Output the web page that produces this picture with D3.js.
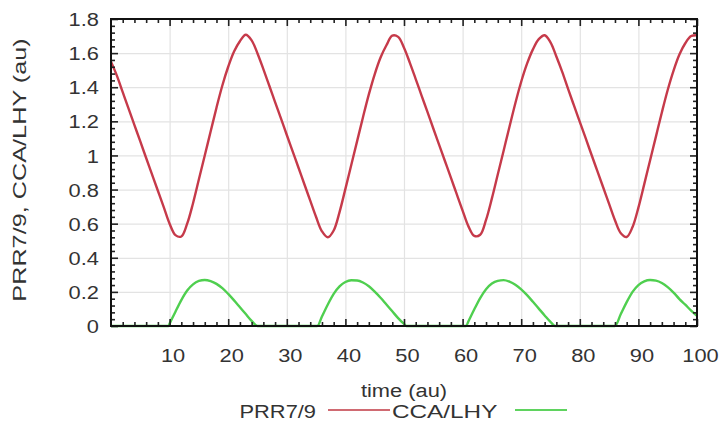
<!DOCTYPE html>
<html>
<head>
<meta charset="utf-8">
<script src="https://cdn.jsdelivr.net/npm/d3@7"></script>
<style>
  html, body { margin: 0; padding: 0; background: #fff; }
  svg { display: block; }
  .lbl { font-family: "Liberation Sans", Arial, Helvetica, sans-serif; font-size: 19px; fill: #333; }
</style>
</head>
<body>
<svg id="chart" width="722" height="425"></svg>
<script>
// PRR7/9 level over time (au)
const prrSeries = [
  [0,1.55],[1,1.468],[2,1.371],[3,1.274],[4,1.178],[5,1.082],[6,0.985],[7,0.889],[8,0.793],[9,0.697],
  [10,0.60],[11,0.533],[12,0.525],[13,0.60],[14,0.72],[15,0.86],[16,1.0],[17,1.14],[18,1.28],[19,1.41],
  [20,1.52],[21,1.61],[22,1.67],[23,1.708],[24,1.675],[25,1.598],[26,1.506],[27,1.41],[28,1.313],[29,1.217],
  [30,1.12],[31,1.024],[32,0.928],[33,0.831],[34,0.735],[35,0.639],[36,0.555],[37,0.52],[38,0.56],[39,0.668],
  [40,0.804],[41,0.944],[42,1.084],[43,1.224],[44,1.358],[45,1.476],[46,1.574],[47,1.646],[48,1.702],[49,1.695],
  [50,1.632],[51,1.543],[52,1.448],[53,1.351],[54,1.255],[55,1.158],[56,1.062],[57,0.966],[58,0.87],[59,0.773],
  [60,0.677],[61,0.584],[62,0.528],[63,0.535],[64,0.622],[65,0.748],[66,0.888],[67,1.028],[68,1.168],[69,1.306],
  [70,1.432],[71,1.538],[72,1.622],[73,1.682],[74,1.705],[75,1.663],[76,1.58],[77,1.49],[78,1.39],[79,1.293],
  [80,1.197],[81,1.101],[82,1.004],[83,0.908],[84,0.812],[85,0.716],[86,0.62],[87,0.544],[88,0.522],[89,0.58],
  [90,0.694],[91,0.832],[92,0.972],[93,1.112],[94,1.252],[95,1.384],[96,1.498],[97,1.592],[98,1.658],[99,1.70],
  [100,1.705]
];

// CCA/LHY level over time (au)
const ccaSeries = [
  [0,0],[9.8,0],[10,0.014],[11,0.084],[12,0.152],[13,0.208],[14,0.244],[15,0.264],[16,0.27],
  [17,0.263],[18,0.247],[19,0.222],[20,0.188],[21,0.15],[22,0.11],[23,0.07],[24,0.03],[25,0],
  [35.2,0],[36,0.056],[37,0.126],[38,0.188],[39,0.232],[40,0.258],[41,0.268],[42,0.267],
  [43,0.255],[44,0.233],[45,0.202],[46,0.166],[47,0.126],[48,0.086],[49,0.046],[50,0.012],
  [50.4,0],[60.6,0],[61,0.028],[62,0.098],[63,0.164],[64,0.216],[65,0.249],[66,0.265],
  [67,0.269],[68,0.26],[69,0.242],[70,0.215],[71,0.181],[72,0.142],[73,0.102],[74,0.062],
  [75,0.024],[75.8,0],[86,0],[87,0.07],[88,0.14],[89,0.2],[90,0.24],[91,0.262],[92,0.27],
  [93,0.266],[94,0.252],[95,0.228],[96,0.196],[97,0.158],[98,0.125],[99,0.09],[100,0.06]
];

const xLabelTicks = [10, 20, 30, 40, 50, 60, 70, 80, 90, 100];
const xMinorTicks = [2,4,6,8,12,14,16,18,22,24,26,28,32,34,36,38,42,44,46,48,52,54,56,58,62,64,66,68,72,74,76,78,82,84,86,88,92,94,96,98];
const yLabelTicks = [0, 0.2, 0.4, 0.6, 0.8, 1, 1.2, 1.4, 1.6, 1.8];
const yMinorTicks = d3.range(0, 1.8001, 0.04).filter(v => Math.abs(v / 0.2 - Math.round(v / 0.2)) > 1e-6);
const seriesNames = ["PRR7/9", "CCA/LHY"];

const svg = d3.select("#chart");
const L = 111, R = 697, T = 19, B = 326;
const SX = 1.15; // horizontal text stretch

const x = d3.scaleLinear().domain([0, 100]).range([L, R]);
const y = d3.scaleLinear().domain([0, 1.8]).range([B, T]);

// grid
svg.append("g").attr("transform", `translate(0,${B})`)
  .call(d3.axisBottom(x).tickValues(xLabelTicks.filter(v => v < 100)).tickSize(-(B - T)).tickFormat(""))
  .call(g => g.select(".domain").remove())
  .call(g => g.selectAll("line").attr("stroke", "#e3e3e3").attr("stroke-width", 1.2));
svg.append("g").attr("transform", `translate(${L},0)`)
  .call(d3.axisLeft(y).tickValues(yLabelTicks.filter(v => v > 0 && v < 1.8)).tickSize(-(R - L)).tickFormat(""))
  .call(g => g.select(".domain").remove())
  .call(g => g.selectAll("line").attr("stroke", "#e3e3e3").attr("stroke-width", 1.2));

// curves
const prrLine = d3.line().x(d => x(d[0])).y(d => y(d[1])).curve(d3.curveCatmullRom.alpha(0.5));
const ccaLine = d3.line().x(d => x(d[0])).y(d => y(d[1])).curve(d3.curveMonotoneX);
svg.append("path").datum(prrSeries).attr("d", prrLine)
  .attr("fill", "none").attr("stroke", "#c63a4a").attr("stroke-width", 2.4);
svg.append("path").datum(ccaSeries).attr("d", ccaLine)
  .attr("fill", "none").attr("stroke", "#4fcf4f").attr("stroke-width", 2.4);

// inward ticks on all four sides
function ticks(axisGen, tr, size, values) {
  svg.append("g").attr("transform", tr)
    .call(axisGen.tickValues(values).tickSize(size).tickFormat(""))
    .call(g => g.select(".domain").remove())
    .call(g => g.selectAll("line").attr("stroke", "#222").attr("stroke-width", 1.6));
}
ticks(d3.axisBottom(x), `translate(0,${B})`, -7, xLabelTicks);
ticks(d3.axisBottom(x), `translate(0,${B})`, -4, xMinorTicks);
ticks(d3.axisTop(x), `translate(0,${T})`, -7, xLabelTicks);
ticks(d3.axisTop(x), `translate(0,${T})`, -4, xMinorTicks);
ticks(d3.axisLeft(y), `translate(${L},0)`, -7, yLabelTicks);
ticks(d3.axisLeft(y), `translate(${L},0)`, -4, yMinorTicks);
ticks(d3.axisRight(y), `translate(${R},0)`, -7, yLabelTicks);
ticks(d3.axisRight(y), `translate(${R},0)`, -4, yMinorTicks);

// frame
svg.append("rect").attr("x", L).attr("y", T).attr("width", R - L).attr("height", B - T)
  .attr("fill", "none").attr("stroke", "#111").attr("stroke-width", 2);

// tick labels
svg.append("g").attr("transform", `translate(3,${B})`)
  .call(d3.axisBottom(x).tickValues(xLabelTicks).tickSize(0).tickPadding(0).tickFormat(d3.format("d")))
  .call(g => g.select(".domain").remove())
  .call(g => g.selectAll("text").attr("class", "lbl").attr("font-size", null).attr("font-family", null)
    .attr("fill", null).attr("y", 0).attr("dy", null).attr("transform", `translate(0,36) scale(${SX},1)`));
svg.append("g").attr("transform", `translate(${L},0)`)
  .call(d3.axisLeft(y).tickValues(yLabelTicks).tickSize(0).tickFormat(d => d === 0 ? "0" : d3.format("")(d)))
  .call(g => g.select(".domain").remove())
  .call(g => g.selectAll("text").attr("class", "lbl").attr("font-size", null).attr("font-family", null)
    .attr("fill", null).attr("x", 0).attr("dy", "0.35em").attr("transform", `translate(-12,0) scale(${SX},1)`));

// axis titles
svg.append("text").attr("class", "lbl").attr("text-anchor", "middle")
  .attr("transform", `translate(${(L + R) / 2},397) scale(${SX},1)`).text("time (au)");
svg.append("text").attr("class", "lbl").attr("text-anchor", "middle")
  .attr("transform", `translate(26,170) rotate(-90) scale(1.33,1)`).text(`${seriesNames[0]}, ${seriesNames[1]} (au)`);

// key
svg.append("text").attr("class", "lbl").attr("text-anchor", "end")
  .attr("transform", `translate(316,418) scale(${SX},1)`).text(seriesNames[0]);
svg.append("line").attr("x1", 328).attr("x2", 390).attr("y1", 410).attr("y2", 410)
  .attr("stroke", "#d06a72").attr("stroke-width", 2);
svg.append("text").attr("class", "lbl").attr("text-anchor", "start")
  .attr("transform", `translate(392,418) scale(1.28,1)`).text(seriesNames[1]);
svg.append("line").attr("x1", 515).attr("x2", 567).attr("y1", 410).attr("y2", 410)
  .attr("stroke", "#5fd35f").attr("stroke-width", 2);
</script>
</body>
</html>
